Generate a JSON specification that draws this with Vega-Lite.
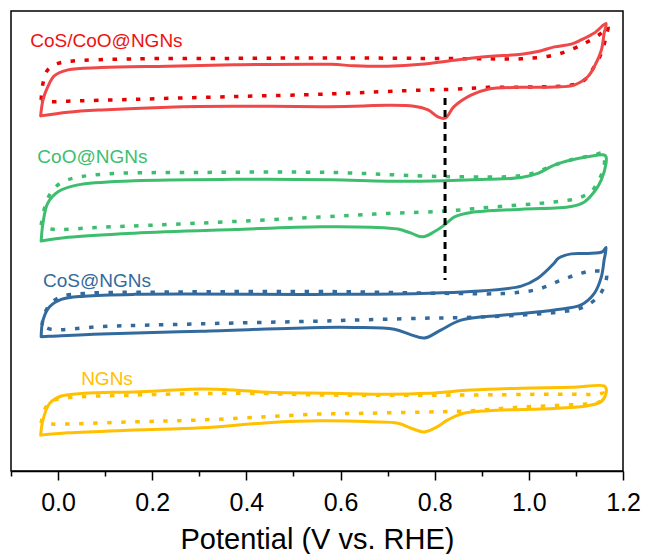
{
  "$schema": "https://vega.github.io/schema/vega-lite/v6.json",
  "width": 612,
  "height": 460,
  "padding": {"left": 10, "top": 11, "right": 0, "bottom": 0},
  "config": {
    "font": "Liberation Sans",
    "view": {"stroke": "black", "strokeWidth": 1.5}
  },
  "datasets": {
    "cv": [
      {"sample":"CoS/CoO@NGNs","gas":"O2","n":0,"E":-0.037,"j":77.2},
      {"sample":"CoS/CoO@NGNs","gas":"O2","n":1,"E":-0.032,"j":80.7},
      {"sample":"CoS/CoO@NGNs","gas":"O2","n":2,"E":-0.022,"j":83.5},
      {"sample":"CoS/CoO@NGNs","gas":"O2","n":3,"E":-0.008,"j":85.9},
      {"sample":"CoS/CoO@NGNs","gas":"O2","n":4,"E":0.021,"j":87.2},
      {"sample":"CoS/CoO@NGNs","gas":"O2","n":5,"E":0.092,"j":87.7},
      {"sample":"CoS/CoO@NGNs","gas":"O2","n":6,"E":0.233,"j":88.0},
      {"sample":"CoS/CoO@NGNs","gas":"O2","n":7,"E":0.374,"j":88.3},
      {"sample":"CoS/CoO@NGNs","gas":"O2","n":8,"E":0.580,"j":88.4},
      {"sample":"CoS/CoO@NGNs","gas":"O2","n":9,"E":0.629,"j":88.1},
      {"sample":"CoS/CoO@NGNs","gas":"O2","n":10,"E":0.700,"j":88.0},
      {"sample":"CoS/CoO@NGNs","gas":"O2","n":11,"E":0.771,"j":88.4},
      {"sample":"CoS/CoO@NGNs","gas":"O2","n":12,"E":0.841,"j":89.3},
      {"sample":"CoS/CoO@NGNs","gas":"O2","n":13,"E":0.913,"j":90.1},
      {"sample":"CoS/CoO@NGNs","gas":"O2","n":14,"E":0.984,"j":90.6},
      {"sample":"CoS/CoO@NGNs","gas":"O2","n":15,"E":1.019,"j":91.2},
      {"sample":"CoS/CoO@NGNs","gas":"O2","n":16,"E":1.054,"j":92.2},
      {"sample":"CoS/CoO@NGNs","gas":"O2","n":17,"E":1.090,"j":92.8},
      {"sample":"CoS/CoO@NGNs","gas":"O2","n":18,"E":1.111,"j":93.7},
      {"sample":"CoS/CoO@NGNs","gas":"O2","n":19,"E":1.139,"j":95.2},
      {"sample":"CoS/CoO@NGNs","gas":"O2","n":20,"E":1.164,"j":97.3},
      {"sample":"CoS/CoO@NGNs","gas":"O2","n":21,"E":1.160,"j":95.2},
      {"sample":"CoS/CoO@NGNs","gas":"O2","n":22,"E":1.154,"j":91.5},
      {"sample":"CoS/CoO@NGNs","gas":"O2","n":23,"E":1.139,"j":87.9},
      {"sample":"CoS/CoO@NGNs","gas":"O2","n":24,"E":1.125,"j":85.7},
      {"sample":"CoS/CoO@NGNs","gas":"O2","n":25,"E":1.096,"j":83.9},
      {"sample":"CoS/CoO@NGNs","gas":"O2","n":26,"E":1.054,"j":83.5},
      {"sample":"CoS/CoO@NGNs","gas":"O2","n":27,"E":0.984,"j":83.4},
      {"sample":"CoS/CoO@NGNs","gas":"O2","n":28,"E":0.913,"j":83.0},
      {"sample":"CoS/CoO@NGNs","gas":"O2","n":29,"E":0.877,"j":81.7},
      {"sample":"CoS/CoO@NGNs","gas":"O2","n":30,"E":0.841,"j":79.2},
      {"sample":"CoS/CoO@NGNs","gas":"O2","n":31,"E":0.822,"j":76.7},
      {"sample":"CoS/CoO@NGNs","gas":"O2","n":32,"E":0.807,"j":77.0},
      {"sample":"CoS/CoO@NGNs","gas":"O2","n":33,"E":0.786,"j":78.5},
      {"sample":"CoS/CoO@NGNs","gas":"O2","n":34,"E":0.756,"j":79.3},
      {"sample":"CoS/CoO@NGNs","gas":"O2","n":35,"E":0.700,"j":79.5},
      {"sample":"CoS/CoO@NGNs","gas":"O2","n":36,"E":0.629,"j":79.3},
      {"sample":"CoS/CoO@NGNs","gas":"O2","n":37,"E":0.559,"j":79.2},
      {"sample":"CoS/CoO@NGNs","gas":"O2","n":38,"E":0.374,"j":79.3},
      {"sample":"CoS/CoO@NGNs","gas":"O2","n":39,"E":0.233,"j":79.1},
      {"sample":"CoS/CoO@NGNs","gas":"O2","n":40,"E":0.092,"j":78.5},
      {"sample":"CoS/CoO@NGNs","gas":"O2","n":41,"E":0.021,"j":78.0},
      {"sample":"CoS/CoO@NGNs","gas":"O2","n":42,"E":-0.037,"j":77.2},

      {"sample":"CoS/CoO@NGNs","gas":"N2","n":0,"E":-0.036,"j":80.7},
      {"sample":"CoS/CoO@NGNs","gas":"N2","n":1,"E":-0.032,"j":84.3},
      {"sample":"CoS/CoO@NGNs","gas":"N2","n":2,"E":-0.022,"j":87.2},
      {"sample":"CoS/CoO@NGNs","gas":"N2","n":3,"E":0.000,"j":88.6},
      {"sample":"CoS/CoO@NGNs","gas":"N2","n":4,"E":0.028,"j":89.1},
      {"sample":"CoS/CoO@NGNs","gas":"N2","n":5,"E":0.162,"j":89.6},
      {"sample":"CoS/CoO@NGNs","gas":"N2","n":6,"E":0.374,"j":89.7},
      {"sample":"CoS/CoO@NGNs","gas":"N2","n":7,"E":0.580,"j":89.8},
      {"sample":"CoS/CoO@NGNs","gas":"N2","n":8,"E":0.771,"j":89.7},
      {"sample":"CoS/CoO@NGNs","gas":"N2","n":9,"E":0.913,"j":89.6},
      {"sample":"CoS/CoO@NGNs","gas":"N2","n":10,"E":0.984,"j":89.6},
      {"sample":"CoS/CoO@NGNs","gas":"N2","n":11,"E":1.054,"j":90.4},
      {"sample":"CoS/CoO@NGNs","gas":"N2","n":12,"E":1.096,"j":91.9},
      {"sample":"CoS/CoO@NGNs","gas":"N2","n":13,"E":1.125,"j":93.3},
      {"sample":"CoS/CoO@NGNs","gas":"N2","n":14,"E":1.154,"j":95.2},
      {"sample":"CoS/CoO@NGNs","gas":"N2","n":15,"E":1.168,"j":96.6},
      {"sample":"CoS/CoO@NGNs","gas":"N2","n":16,"E":1.164,"j":94.4},
      {"sample":"CoS/CoO@NGNs","gas":"N2","n":17,"E":1.154,"j":90.8},
      {"sample":"CoS/CoO@NGNs","gas":"N2","n":18,"E":1.139,"j":87.9},
      {"sample":"CoS/CoO@NGNs","gas":"N2","n":19,"E":1.118,"j":85.0},
      {"sample":"CoS/CoO@NGNs","gas":"N2","n":20,"E":1.090,"j":83.9},
      {"sample":"CoS/CoO@NGNs","gas":"N2","n":21,"E":1.019,"j":83.5},
      {"sample":"CoS/CoO@NGNs","gas":"N2","n":22,"E":0.913,"j":83.4},
      {"sample":"CoS/CoO@NGNs","gas":"N2","n":23,"E":0.841,"j":83.0},
      {"sample":"CoS/CoO@NGNs","gas":"N2","n":24,"E":0.771,"j":82.8},
      {"sample":"CoS/CoO@NGNs","gas":"N2","n":25,"E":0.629,"j":82.2},
      {"sample":"CoS/CoO@NGNs","gas":"N2","n":26,"E":0.559,"j":81.9},
      {"sample":"CoS/CoO@NGNs","gas":"N2","n":27,"E":0.374,"j":81.4},
      {"sample":"CoS/CoO@NGNs","gas":"N2","n":28,"E":0.162,"j":80.8},
      {"sample":"CoS/CoO@NGNs","gas":"N2","n":29,"E":0.021,"j":80.4},
      {"sample":"CoS/CoO@NGNs","gas":"N2","n":30,"E":-0.018,"j":80.3},
      {"sample":"CoS/CoO@NGNs","gas":"N2","n":31,"E":-0.036,"j":80.7},

      {"sample":"CoO@NGNs","gas":"O2","n":0,"E":-0.036,"j":50.0},
      {"sample":"CoO@NGNs","gas":"O2","n":1,"E":-0.032,"j":53.9},
      {"sample":"CoO@NGNs","gas":"O2","n":2,"E":-0.022,"j":58.2},
      {"sample":"CoO@NGNs","gas":"O2","n":3,"E":0.000,"j":60.7},
      {"sample":"CoO@NGNs","gas":"O2","n":4,"E":0.042,"j":62.2},
      {"sample":"CoO@NGNs","gas":"O2","n":5,"E":0.162,"j":63.1},
      {"sample":"CoO@NGNs","gas":"O2","n":6,"E":0.374,"j":63.4},
      {"sample":"CoO@NGNs","gas":"O2","n":7,"E":0.580,"j":63.3},
      {"sample":"CoO@NGNs","gas":"O2","n":8,"E":0.700,"j":63.0},
      {"sample":"CoO@NGNs","gas":"O2","n":9,"E":0.821,"j":63.1},
      {"sample":"CoO@NGNs","gas":"O2","n":10,"E":0.913,"j":63.4},
      {"sample":"CoO@NGNs","gas":"O2","n":11,"E":0.984,"j":63.8},
      {"sample":"CoO@NGNs","gas":"O2","n":12,"E":1.019,"j":64.7},
      {"sample":"CoO@NGNs","gas":"O2","n":13,"E":1.054,"j":66.5},
      {"sample":"CoO@NGNs","gas":"O2","n":14,"E":1.090,"j":67.6},
      {"sample":"CoO@NGNs","gas":"O2","n":15,"E":1.125,"j":68.3},
      {"sample":"CoO@NGNs","gas":"O2","n":16,"E":1.160,"j":68.7},
      {"sample":"CoO@NGNs","gas":"O2","n":17,"E":1.164,"j":68.3},
      {"sample":"CoO@NGNs","gas":"O2","n":18,"E":1.164,"j":66.9},
      {"sample":"CoO@NGNs","gas":"O2","n":19,"E":1.154,"j":63.3},
      {"sample":"CoO@NGNs","gas":"O2","n":20,"E":1.139,"j":60.7},
      {"sample":"CoO@NGNs","gas":"O2","n":21,"E":1.118,"j":58.5},
      {"sample":"CoO@NGNs","gas":"O2","n":22,"E":1.090,"j":57.5},
      {"sample":"CoO@NGNs","gas":"O2","n":23,"E":0.984,"j":56.9},
      {"sample":"CoO@NGNs","gas":"O2","n":24,"E":0.877,"j":56.2},
      {"sample":"CoO@NGNs","gas":"O2","n":25,"E":0.841,"j":55.2},
      {"sample":"CoO@NGNs","gas":"O2","n":26,"E":0.821,"j":53.5},
      {"sample":"CoO@NGNs","gas":"O2","n":27,"E":0.799,"j":52.0},
      {"sample":"CoO@NGNs","gas":"O2","n":28,"E":0.775,"j":50.9},
      {"sample":"CoO@NGNs","gas":"O2","n":29,"E":0.750,"j":51.7},
      {"sample":"CoO@NGNs","gas":"O2","n":30,"E":0.722,"j":52.6},
      {"sample":"CoO@NGNs","gas":"O2","n":31,"E":0.665,"j":53.0},
      {"sample":"CoO@NGNs","gas":"O2","n":32,"E":0.559,"j":53.1},
      {"sample":"CoO@NGNs","gas":"O2","n":33,"E":0.374,"j":52.5},
      {"sample":"CoO@NGNs","gas":"O2","n":34,"E":0.162,"j":51.7},
      {"sample":"CoO@NGNs","gas":"O2","n":35,"E":0.021,"j":50.8},
      {"sample":"CoO@NGNs","gas":"O2","n":36,"E":-0.036,"j":50.0},

      {"sample":"CoO@NGNs","gas":"N2","n":0,"E":-0.036,"j":53.5},
      {"sample":"CoO@NGNs","gas":"N2","n":1,"E":-0.025,"j":58.5},
      {"sample":"CoO@NGNs","gas":"N2","n":2,"E":-0.008,"j":61.5},
      {"sample":"CoO@NGNs","gas":"N2","n":3,"E":0.021,"j":63.3},
      {"sample":"CoO@NGNs","gas":"N2","n":4,"E":0.092,"j":64.5},
      {"sample":"CoO@NGNs","gas":"N2","n":5,"E":0.304,"j":64.9},
      {"sample":"CoO@NGNs","gas":"N2","n":6,"E":0.580,"j":64.9},
      {"sample":"CoO@NGNs","gas":"N2","n":7,"E":0.821,"j":64.0},
      {"sample":"CoO@NGNs","gas":"N2","n":8,"E":0.984,"j":64.2},
      {"sample":"CoO@NGNs","gas":"N2","n":9,"E":1.019,"j":65.1},
      {"sample":"CoO@NGNs","gas":"N2","n":10,"E":1.054,"j":66.5},
      {"sample":"CoO@NGNs","gas":"N2","n":11,"E":1.096,"j":67.8},
      {"sample":"CoO@NGNs","gas":"N2","n":12,"E":1.139,"j":68.7},
      {"sample":"CoO@NGNs","gas":"N2","n":13,"E":1.157,"j":69.1},
      {"sample":"CoO@NGNs","gas":"N2","n":14,"E":1.160,"j":66.2},
      {"sample":"CoO@NGNs","gas":"N2","n":15,"E":1.149,"j":63.3},
      {"sample":"CoO@NGNs","gas":"N2","n":16,"E":1.132,"j":60.7},
      {"sample":"CoO@NGNs","gas":"N2","n":17,"E":1.104,"j":59.3},
      {"sample":"CoO@NGNs","gas":"N2","n":18,"E":1.054,"j":58.5},
      {"sample":"CoO@NGNs","gas":"N2","n":19,"E":0.913,"j":57.3},
      {"sample":"CoO@NGNs","gas":"N2","n":20,"E":0.821,"j":56.5},
      {"sample":"CoO@NGNs","gas":"N2","n":21,"E":0.700,"j":56.0},
      {"sample":"CoO@NGNs","gas":"N2","n":22,"E":0.559,"j":55.2},
      {"sample":"CoO@NGNs","gas":"N2","n":23,"E":0.304,"j":53.9},
      {"sample":"CoO@NGNs","gas":"N2","n":24,"E":0.092,"j":53.0},
      {"sample":"CoO@NGNs","gas":"N2","n":25,"E":-0.015,"j":52.6},
      {"sample":"CoO@NGNs","gas":"N2","n":26,"E":-0.036,"j":53.5},

      {"sample":"CoS@NGNs","gas":"O2","n":0,"E":-0.036,"j":29.2},
      {"sample":"CoS@NGNs","gas":"O2","n":1,"E":-0.032,"j":32.8},
      {"sample":"CoS@NGNs","gas":"O2","n":2,"E":-0.018,"j":35.7},
      {"sample":"CoS@NGNs","gas":"O2","n":3,"E":0.007,"j":37.3},
      {"sample":"CoS@NGNs","gas":"O2","n":4,"E":0.056,"j":38.0},
      {"sample":"CoS@NGNs","gas":"O2","n":5,"E":0.162,"j":38.4},
      {"sample":"CoS@NGNs","gas":"O2","n":6,"E":0.580,"j":38.4},
      {"sample":"CoS@NGNs","gas":"O2","n":7,"E":0.771,"j":38.6},
      {"sample":"CoS@NGNs","gas":"O2","n":8,"E":0.877,"j":39.0},
      {"sample":"CoS@NGNs","gas":"O2","n":9,"E":0.984,"j":40.2},
      {"sample":"CoS@NGNs","gas":"O2","n":10,"E":1.019,"j":41.9},
      {"sample":"CoS@NGNs","gas":"O2","n":11,"E":1.054,"j":45.2},
      {"sample":"CoS@NGNs","gas":"O2","n":12,"E":1.062,"j":46.2},
      {"sample":"CoS@NGNs","gas":"O2","n":13,"E":1.090,"j":47.2},
      {"sample":"CoS@NGNs","gas":"O2","n":14,"E":1.125,"j":47.3},
      {"sample":"CoS@NGNs","gas":"O2","n":15,"E":1.157,"j":47.7},
      {"sample":"CoS@NGNs","gas":"O2","n":16,"E":1.164,"j":48.6},
      {"sample":"CoS@NGNs","gas":"O2","n":17,"E":1.160,"j":45.9},
      {"sample":"CoS@NGNs","gas":"O2","n":18,"E":1.154,"j":42.2},
      {"sample":"CoS@NGNs","gas":"O2","n":19,"E":1.139,"j":38.6},
      {"sample":"CoS@NGNs","gas":"O2","n":20,"E":1.111,"j":36.1},
      {"sample":"CoS@NGNs","gas":"O2","n":21,"E":1.054,"j":35.0},
      {"sample":"CoS@NGNs","gas":"O2","n":22,"E":0.948,"j":33.9},
      {"sample":"CoS@NGNs","gas":"O2","n":23,"E":0.856,"j":32.8},
      {"sample":"CoS@NGNs","gas":"O2","n":24,"E":0.814,"j":30.7},
      {"sample":"CoS@NGNs","gas":"O2","n":25,"E":0.778,"j":28.9},
      {"sample":"CoS@NGNs","gas":"O2","n":26,"E":0.750,"j":29.6},
      {"sample":"CoS@NGNs","gas":"O2","n":27,"E":0.714,"j":30.8},
      {"sample":"CoS@NGNs","gas":"O2","n":28,"E":0.629,"j":31.2},
      {"sample":"CoS@NGNs","gas":"O2","n":29,"E":0.559,"j":31.2},
      {"sample":"CoS@NGNs","gas":"O2","n":30,"E":0.304,"j":30.4},
      {"sample":"CoS@NGNs","gas":"O2","n":31,"E":0.092,"j":29.8},
      {"sample":"CoS@NGNs","gas":"O2","n":32,"E":-0.015,"j":29.3},
      {"sample":"CoS@NGNs","gas":"O2","n":33,"E":-0.036,"j":29.2},

      {"sample":"CoS@NGNs","gas":"N2","n":0,"E":-0.034,"j":31.7},
      {"sample":"CoS@NGNs","gas":"N2","n":1,"E":-0.030,"j":33.9},
      {"sample":"CoS@NGNs","gas":"N2","n":2,"E":-0.015,"j":36.5},
      {"sample":"CoS@NGNs","gas":"N2","n":3,"E":0.007,"j":37.9},
      {"sample":"CoS@NGNs","gas":"N2","n":4,"E":0.056,"j":38.6},
      {"sample":"CoS@NGNs","gas":"N2","n":5,"E":0.233,"j":38.9},
      {"sample":"CoS@NGNs","gas":"N2","n":6,"E":0.580,"j":39.0},
      {"sample":"CoS@NGNs","gas":"N2","n":7,"E":0.841,"j":38.6},
      {"sample":"CoS@NGNs","gas":"N2","n":8,"E":0.948,"j":38.6},
      {"sample":"CoS@NGNs","gas":"N2","n":9,"E":1.019,"j":39.5},
      {"sample":"CoS@NGNs","gas":"N2","n":10,"E":1.069,"j":41.5},
      {"sample":"CoS@NGNs","gas":"N2","n":11,"E":1.111,"j":43.0},
      {"sample":"CoS@NGNs","gas":"N2","n":12,"E":1.139,"j":43.5},
      {"sample":"CoS@NGNs","gas":"N2","n":13,"E":1.164,"j":43.0},
      {"sample":"CoS@NGNs","gas":"N2","n":14,"E":1.160,"j":40.1},
      {"sample":"CoS@NGNs","gas":"N2","n":15,"E":1.147,"j":37.9},
      {"sample":"CoS@NGNs","gas":"N2","n":16,"E":1.118,"j":35.7},
      {"sample":"CoS@NGNs","gas":"N2","n":17,"E":1.069,"j":34.6},
      {"sample":"CoS@NGNs","gas":"N2","n":18,"E":0.984,"j":33.9},
      {"sample":"CoS@NGNs","gas":"N2","n":19,"E":0.877,"j":33.4},
      {"sample":"CoS@NGNs","gas":"N2","n":20,"E":0.771,"j":33.2},
      {"sample":"CoS@NGNs","gas":"N2","n":21,"E":0.629,"j":32.8},
      {"sample":"CoS@NGNs","gas":"N2","n":22,"E":0.559,"j":32.6},
      {"sample":"CoS@NGNs","gas":"N2","n":23,"E":0.304,"j":32.0},
      {"sample":"CoS@NGNs","gas":"N2","n":24,"E":0.092,"j":31.4},
      {"sample":"CoS@NGNs","gas":"N2","n":25,"E":-0.015,"j":30.8},
      {"sample":"CoS@NGNs","gas":"N2","n":26,"E":-0.034,"j":31.7},

      {"sample":"NGNs","gas":"O2","n":0,"E":-0.037,"j":7.8},
      {"sample":"NGNs","gas":"O2","n":1,"E":-0.032,"j":11.1},
      {"sample":"NGNs","gas":"O2","n":2,"E":-0.018,"j":14.7},
      {"sample":"NGNs","gas":"O2","n":3,"E":0.007,"j":16.3},
      {"sample":"NGNs","gas":"O2","n":4,"E":0.056,"j":16.9},
      {"sample":"NGNs","gas":"O2","n":5,"E":0.162,"j":17.2},
      {"sample":"NGNs","gas":"O2","n":6,"E":0.304,"j":17.8},
      {"sample":"NGNs","gas":"O2","n":7,"E":0.374,"j":17.6},
      {"sample":"NGNs","gas":"O2","n":8,"E":0.446,"j":17.1},
      {"sample":"NGNs","gas":"O2","n":9,"E":0.580,"j":16.9},
      {"sample":"NGNs","gas":"O2","n":10,"E":0.700,"j":16.7},
      {"sample":"NGNs","gas":"O2","n":11,"E":0.786,"j":16.9},
      {"sample":"NGNs","gas":"O2","n":12,"E":0.877,"j":17.6},
      {"sample":"NGNs","gas":"O2","n":13,"E":0.984,"j":18.0},
      {"sample":"NGNs","gas":"O2","n":14,"E":1.090,"j":18.2},
      {"sample":"NGNs","gas":"O2","n":15,"E":1.160,"j":18.5},
      {"sample":"NGNs","gas":"O2","n":16,"E":1.164,"j":18.0},
      {"sample":"NGNs","gas":"O2","n":17,"E":1.164,"j":16.9},
      {"sample":"NGNs","gas":"O2","n":18,"E":1.154,"j":15.1},
      {"sample":"NGNs","gas":"O2","n":19,"E":1.125,"j":14.2},
      {"sample":"NGNs","gas":"O2","n":20,"E":1.054,"j":13.6},
      {"sample":"NGNs","gas":"O2","n":21,"E":0.913,"j":13.1},
      {"sample":"NGNs","gas":"O2","n":22,"E":0.856,"j":12.4},
      {"sample":"NGNs","gas":"O2","n":23,"E":0.828,"j":11.1},
      {"sample":"NGNs","gas":"O2","n":24,"E":0.800,"j":9.3},
      {"sample":"NGNs","gas":"O2","n":25,"E":0.778,"j":8.5},
      {"sample":"NGNs","gas":"O2","n":26,"E":0.750,"j":9.3},
      {"sample":"NGNs","gas":"O2","n":27,"E":0.722,"j":10.4},
      {"sample":"NGNs","gas":"O2","n":28,"E":0.665,"j":10.7},
      {"sample":"NGNs","gas":"O2","n":29,"E":0.559,"j":10.9},
      {"sample":"NGNs","gas":"O2","n":30,"E":0.446,"j":10.5},
      {"sample":"NGNs","gas":"O2","n":31,"E":0.304,"j":9.4},
      {"sample":"NGNs","gas":"O2","n":32,"E":0.162,"j":8.9},
      {"sample":"NGNs","gas":"O2","n":33,"E":0.021,"j":8.3},
      {"sample":"NGNs","gas":"O2","n":34,"E":-0.037,"j":7.8},

      {"sample":"NGNs","gas":"N2","n":0,"E":-0.036,"j":10.4},
      {"sample":"NGNs","gas":"N2","n":1,"E":-0.029,"j":13.3},
      {"sample":"NGNs","gas":"N2","n":2,"E":-0.015,"j":15.1},
      {"sample":"NGNs","gas":"N2","n":3,"E":0.021,"j":15.9},
      {"sample":"NGNs","gas":"N2","n":4,"E":0.162,"j":16.5},
      {"sample":"NGNs","gas":"N2","n":5,"E":0.374,"j":16.9},
      {"sample":"NGNs","gas":"N2","n":6,"E":0.580,"j":16.5},
      {"sample":"NGNs","gas":"N2","n":7,"E":0.841,"j":16.5},
      {"sample":"NGNs","gas":"N2","n":8,"E":1.054,"j":16.7},
      {"sample":"NGNs","gas":"N2","n":9,"E":1.147,"j":16.7},
      {"sample":"NGNs","gas":"N2","n":10,"E":1.160,"j":16.9},
      {"sample":"NGNs","gas":"N2","n":11,"E":1.160,"j":15.8},
      {"sample":"NGNs","gas":"N2","n":12,"E":1.147,"j":14.9},
      {"sample":"NGNs","gas":"N2","n":13,"E":1.090,"j":14.4},
      {"sample":"NGNs","gas":"N2","n":14,"E":0.984,"j":13.9},
      {"sample":"NGNs","gas":"N2","n":15,"E":0.877,"j":13.1},
      {"sample":"NGNs","gas":"N2","n":16,"E":0.771,"j":12.8},
      {"sample":"NGNs","gas":"N2","n":17,"E":0.629,"j":12.5},
      {"sample":"NGNs","gas":"N2","n":18,"E":0.559,"j":12.4},
      {"sample":"NGNs","gas":"N2","n":19,"E":0.446,"j":11.8},
      {"sample":"NGNs","gas":"N2","n":20,"E":0.304,"j":11.1},
      {"sample":"NGNs","gas":"N2","n":21,"E":0.162,"j":10.7},
      {"sample":"NGNs","gas":"N2","n":22,"E":-0.015,"j":10.2},
      {"sample":"NGNs","gas":"N2","n":23,"E":-0.036,"j":10.4}
    ],
    "labels": [
      {"sample":"CoS/CoO@NGNs","E":-0.059,"j":92.2},
      {"sample":"CoO@NGNs","E":-0.044,"j":67.0},
      {"sample":"CoS@NGNs","E":-0.032,"j":39.9},
      {"sample":"NGNs","E":0.049,"j":18.7}
    ],
    "peak": [
      {"E":0.822,"top":81.1,"bottom":41.5}
    ]
  },
  "resolve": {"scale": {"color": "independent"}, "axis": {"x": "independent"}},
  "layer": [
    {
      "data": {"name": "cv"},
      "transform": [{"filter": "datum.gas === 'N2'"}],
      "mark": {"type": "line", "interpolate": "catmull-rom", "strokeWidth": 3.5, "strokeDash": [4.5, 9.5], "strokeCap": "butt"},
      "encoding": {
        "x": {"field": "E", "type": "quantitative",
              "scale": {"domain": [-0.1, 1.2], "nice": false, "zero": false},
              "axis": {
                "orient": "bottom",
                "values": [0, 0.2, 0.4, 0.6, 0.8, 1.0, 1.2], "format": ".1f",
                "title": "Potential (V vs. RHE)", "grid": false,
                "domainColor": "black", "domainWidth": 1.5,
                "tickColor": "black", "tickWidth": 1.5, "tickSize": 9,
                "labelFontSize": 25, "labelColor": "black", "labelPadding": 10,
                "labelFlush": false,
                "titleFontSize": 29, "titleFontWeight": "normal", "titleColor": "black", "titlePadding": 10
              }},
        "y": {"field": "j", "type": "quantitative",
              "scale": {"domain": [0, 100], "nice": false, "zero": false}, "axis": null},
        "color": {"field": "sample", "type": "nominal", "legend": null,
                  "scale": {"domain": ["CoS/CoO@NGNs", "CoO@NGNs", "CoS@NGNs", "NGNs"],
                            "range": ["#E60000", "#3DBE6E", "#336A9E", "#FFC000"]}},
        "detail": {"field": "sample"},
        "order": {"field": "n", "type": "quantitative"}
      }
    },
    {
      "data": {"name": "cv"},
      "transform": [{"filter": "datum.gas === 'O2'"}],
      "mark": {"type": "line", "interpolate": "catmull-rom", "strokeWidth": 3, "strokeJoin": "round", "strokeCap": "round"},
      "encoding": {
        "x": {"field": "E", "type": "quantitative", "axis": null},
        "y": {"field": "j", "type": "quantitative", "axis": null},
        "color": {"field": "sample", "type": "nominal", "legend": null,
                  "scale": {"domain": ["CoS/CoO@NGNs", "CoO@NGNs", "CoS@NGNs", "NGNs"],
                            "range": ["#F04848", "#3DBE6E", "#336A9E", "#FFC000"]}},
        "detail": {"field": "sample"},
        "order": {"field": "n", "type": "quantitative"}
      }
    },
    {
      "data": {"name": "peak"},
      "mark": {"type": "rule", "color": "black", "strokeWidth": 3, "strokeDash": [7, 5]},
      "encoding": {
        "x": {"field": "E", "type": "quantitative",
              "axis": {
                "orient": "bottom",
                "values": [-0.1, 0.1, 0.3, 0.5, 0.7, 0.9, 1.1],
                "labels": false, "domain": false, "grid": false, "title": null,
                "tickColor": "black", "tickWidth": 1.5, "tickSize": 5
              }},
        "y": {"field": "top", "type": "quantitative"},
        "y2": {"field": "bottom"}
      }
    },
    {
      "data": {"name": "labels"},
      "mark": {"type": "text", "align": "left", "baseline": "alphabetic", "fontSize": 19, "font": "Liberation Sans"},
      "encoding": {
        "x": {"field": "E", "type": "quantitative", "axis": null},
        "y": {"field": "j", "type": "quantitative"},
        "text": {"field": "sample"},
        "color": {"field": "sample", "type": "nominal", "legend": null,
                  "scale": {"domain": ["CoS/CoO@NGNs", "CoO@NGNs", "CoS@NGNs", "NGNs"],
                            "range": ["#EE1111", "#3DBE6E", "#336A9E", "#FFC000"]}}
      }
    }
  ]
}
